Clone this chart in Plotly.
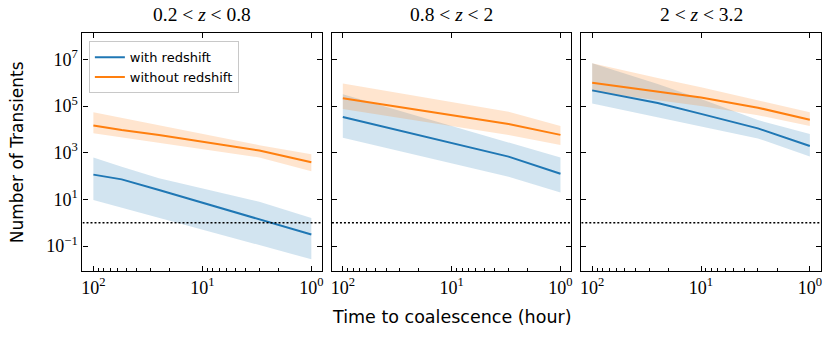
import numpy as np
import plotly.graph_objects as go

# ---------------- data ----------------
hours = [100, 55, 25, 10, 3, 1]
panel_titles = ["0.2 < <i>z</i> < 0.8", "0.8 < <i>z</i> < 2", "2 < <i>z</i> < 3.2"]
threshold = 1

# with redshift: median / lower / upper, one list per panel
with_mid = [
    [115, 72, 25, 7.2, 1.45, 0.31],
    [34000, 17400, 7200, 2600, 680, 126],
    [468000, 269000, 135000, 46000, 11000, 1950],
]
with_lo = [
    [9.3, 4.4, 1.6, 0.5, 0.11, 0.027],
    [4400, 2300, 950, 350, 93, 19.5],
    [129000, 72000, 33000, 13500, 4100, 680],
]
with_hi = [
    [630, 250, 81, 30, 7.9, 1.6],
    [316000, 141000, 49000, 14500, 2950, 620],
    [6.8e6, 2.8e6, 890000, 200000, 25000, 6300],
]
# without redshift
wo_mid = [
    [14500, 9300, 5800, 3000, 1230, 390],
    [214000, 138000, 78000, 40000, 17000, 5800],
    [1.0e6, 676000, 407000, 234000, 85000, 25700],
]
wo_lo = [
    [6800, 4500, 2600, 1400, 630, 160],
    [74000, 48000, 27000, 13800, 5800, 2140],
    [417000, 282000, 178000, 100000, 40700, 13800],
]
wo_hi = [
    [54000, 31000, 15000, 6500, 2100, 850],
    [930000, 575000, 310000, 148000, 57500, 13800],
    [6.8e6, 3.55e6, 1.58e6, 631000, 178000, 53700],
]

x_tickvals = [1, 10, 100]
x_ticktext = ["10<sup>0</sup>", "10<sup>1</sup>", "10<sup>2</sup>"]
x_minor = [2, 3, 4, 5, 6, 7, 8, 9, 20, 30, 40, 50, 60, 70, 80, 90]
y_tickvals = [0.1, 10, 1e3, 1e5, 1e7]
y_ticktext = ["10<sup>\u22121</sup>", "10<sup>1</sup>", "10<sup>3</sup>", "10<sup>5</sup>", "10<sup>7</sup>"]

# ---------------- style ----------------
BLUE = "#1f77b4"
ORANGE = "#ff7f0e"
BLUE_F = "rgba(31,119,180,0.2)"
ORANGE_F = "rgba(255,127,14,0.2)"
SERIF = "Liberation Serif"
SANS = "DejaVu Sans"

x_domains = [[0.0983, 0.3875], [0.3992, 0.6880], [0.7000, 0.9888]]
y_domain = [0.1982, 0.9024]
x_range = [2.1, -0.1]
y_range = [-2.07, 8.13]

fig = go.Figure()

for i in range(3):
    xa = "x" if i == 0 else f"x{i+1}"
    ya = "y" if i == 0 else f"y{i+1}"
    groups = [
        (with_lo[i], with_hi[i], with_mid[i], BLUE, BLUE_F, "with redshift"),
        (wo_lo[i], wo_hi[i], wo_mid[i], ORANGE, ORANGE_F, "without redshift"),
    ]
    for lo, hi, mid, col, fcol, name in groups:
        fig.add_trace(go.Scatter(x=hours, y=lo, mode="lines", line=dict(width=0, color=fcol),
                                 showlegend=False, hoverinfo="skip", xaxis=xa, yaxis=ya))
        fig.add_trace(go.Scatter(x=hours, y=hi, mode="lines", line=dict(width=0, color=fcol),
                                 fill="tonexty", fillcolor=fcol,
                                 showlegend=False, hoverinfo="skip", xaxis=xa, yaxis=ya))
    for lo, hi, mid, col, fcol, name in groups:
        fig.add_trace(go.Scatter(x=hours, y=mid, mode="lines", line=dict(width=2, color=col),
                                 name=name, showlegend=(i == 0), xaxis=xa, yaxis=ya))
    # threshold line
    fig.add_trace(go.Scatter(x=[10 ** x_range[0], 10 ** x_range[1]], y=[threshold, threshold],
                             mode="lines", line=dict(color="black", width=1.5, dash="2px,2px"),
                             showlegend=False, hoverinfo="skip", xaxis=xa, yaxis=ya))
    # invisible trace to activate top tick axis
    fig.add_trace(go.Scatter(x=[10], y=[1], mode="markers", marker=dict(opacity=0),
                             showlegend=False, hoverinfo="skip", xaxis=f"x{i+4}", yaxis=ya))

layout = dict(
    width=831, height=338,
    margin=dict(l=0, r=0, t=0, b=0),
    plot_bgcolor="white", paper_bgcolor="white",
    showlegend=True,
    legend=dict(x=0.106, y=0.878, xanchor="left", yanchor="top",
                bgcolor="white", bordercolor="rgba(200,200,200,1)", borderwidth=1,
                font=dict(family=SANS, size=13, color="black"),
                traceorder="normal", tracegroupgap=0, itemwidth=30),
)

for i in range(3):
    sfx = "" if i == 0 else str(i + 1)
    ya = "y" if i == 0 else f"y{i+1}"
    xa = "x" if i == 0 else f"x{i+1}"
    layout["xaxis" + sfx] = dict(
        domain=x_domains[i], anchor=ya, type="log", range=x_range,
        showline=True, linecolor="black", linewidth=1.3, mirror=True,
        ticks="inside", ticklen=5, tickwidth=1.1, tickcolor="black",
        tickvals=x_tickvals, ticktext=x_ticktext,
        tickfont=dict(family=SERIF, size=18, color="black"),
        showgrid=False, zeroline=False,
        minor=dict(ticks="inside", ticklen=2.5, tickwidth=0.9, tickcolor="black",
                   tickvals=x_minor, showgrid=False),
    )
    layout["yaxis" + sfx] = dict(
        domain=y_domain, anchor=xa, type="log", range=y_range,
        showline=True, linecolor="black", linewidth=1.3, mirror="ticks",
        ticks="inside", ticklen=5, tickwidth=1.1, tickcolor="black",
        tickvals=y_tickvals, ticktext=y_ticktext,
        showticklabels=(i == 0),
        tickfont=dict(family=SERIF, size=18, color="black"),
        showgrid=False, zeroline=False,
    )
    layout[f"xaxis{i+4}"] = dict(
        overlaying=xa, anchor=ya, side="top", type="log", range=x_range,
        ticks="inside", ticklen=5, tickwidth=1.1, tickcolor="black",
        tickvals=x_tickvals, showticklabels=False,
        showline=False, showgrid=False, zeroline=False,
    )

fig.update_layout(**layout)

# panel titles
for i in range(3):
    fig.add_annotation(text=panel_titles[i], x=sum(x_domains[i]) / 2, y=0.956,
                       xref="paper", yref="paper", showarrow=False,
                       xanchor="center", yanchor="middle",
                       font=dict(family=SERIF, size=19.5, color="black"))

fig.add_annotation(text="Number of Transients", x=0.0195, y=0.55, xref="paper", yref="paper",
                   showarrow=False, textangle=-90, xanchor="center", yanchor="middle",
                   font=dict(family=SANS, size=17, color="black"))
fig.add_annotation(text="Time to coalescence (hour)", x=0.544, y=0.062, xref="paper", yref="paper",
                   showarrow=False, xanchor="center", yanchor="middle",
                   font=dict(family=SANS, size=17.5, color="black"))

fig.write_html("out.html", config={"displayModeBar": False},
               post_script="document.body.style.margin='0';document.body.style.overflow='hidden';")
